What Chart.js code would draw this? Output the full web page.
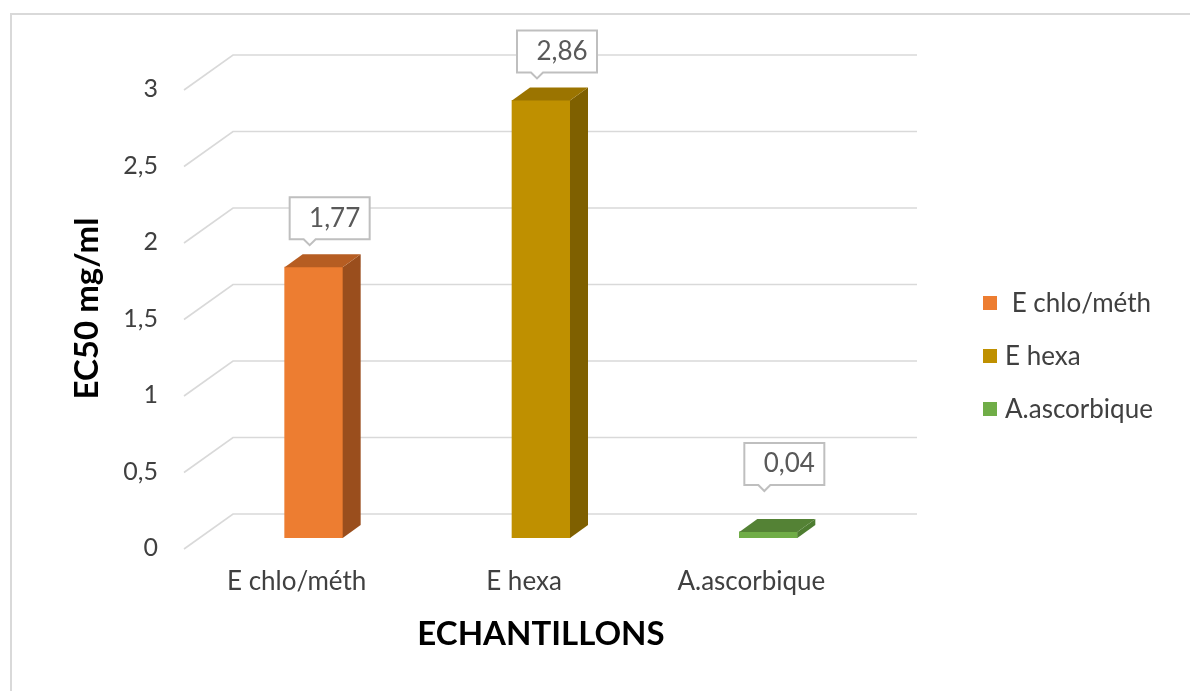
<!DOCTYPE html>
<html lang="fr">
<head>
<meta charset="utf-8">
<title>EC50 mg/ml</title>
<script src="https://cdn.jsdelivr.net/npm/chart.js@4.4.1/dist/chart.umd.min.js"></script>
<style>
  html, body { margin: 0; padding: 0; background: #fff; }
  #wrap { position: relative; width: 1190px; height: 691px; }
</style>
</head>
<body>
<div id="wrap"><canvas id="ec50" width="1190" height="691"></canvas></div>
<script>
(function () {
    'use strict';

    // valeurs
    var categories = ['E chlo/méth', 'E hexa', 'A.ascorbique'];
    var legendLabels = [' E chlo/méth', 'E hexa', 'A.ascorbique'];
    var ec50Values = [1.77, 2.86, 0.04];
    var yTickValues = [0, 0.5, 1, 1.5, 2, 2.5, 3];
    var yTickLabels = ['0', '0,5', '1', '1,5', '2', '2,5', '3'];

    // couleurs (face avant / côté / dessus)
    var frontColors = ['#ED7D31', '#BF9000', '#70AD47'];
    var sideColors = ['#9A4E1D', '#7F6000', '#4E7D31'];
    var topColors = ['#B65D22', '#9B7400', '#548235'];

    var FONT = "Lato, 'Open Sans', sans-serif";
    var GRID = '#d9d9d9';
    var BAR_DEPTH = { dx: 18, dy: -13 };
    var FLOOR_FRONT = { dx: -16, dy: 11 };
    var FLOOR_BACK = { dx: 33, dy: -24 };
    var nf = new Intl.NumberFormat('fr-FR', { minimumFractionDigits: 2, maximumFractionDigits: 2 });

    // cadre gris autour du graphique (coupé à droite et en bas)
    var framePlugin = {
        id: 'frame',
        beforeDraw: function (chart) {
            var ctx = chart.ctx;
            ctx.save();
            ctx.fillStyle = '#fff';
            ctx.fillRect(0, 0, chart.width, chart.height);
            ctx.strokeStyle = GRID;
            ctx.lineWidth = 2;
            ctx.beginPath();
            ctx.moveTo(11, chart.height);
            ctx.lineTo(11, 14);
            ctx.lineTo(chart.width, 14);
            ctx.stroke();
            ctx.restore();
        }
    };

    // quadrillage en perspective : segment du sol + ligne du mur du fond
    var floorGridPlugin = {
        id: 'floorGrid',
        beforeDatasetsDraw: function (chart) {
            var ctx = chart.ctx, y = chart.scales.y, a = chart.chartArea;
            ctx.save();
            ctx.strokeStyle = GRID;
            ctx.lineWidth = 1.6;
            y.ticks.forEach(function (t) {
                var py = y.getPixelForValue(t.value);
                ctx.beginPath();
                ctx.moveTo(a.left + FLOOR_FRONT.dx, py + FLOOR_FRONT.dy);
                ctx.lineTo(a.left + FLOOR_BACK.dx, py + FLOOR_BACK.dy);
                ctx.lineTo(a.right + 35, py + FLOOR_BACK.dy);
                ctx.stroke();
            });
            ctx.restore();
        }
    };

    // faces latérale et supérieure des barres + étiquettes de valeur
    var bar3dPlugin = {
        id: 'bar3d',
        afterDatasetsDraw: function (chart) {
            var ctx = chart.ctx;
            var meta = chart.getDatasetMeta(0);
            var data = chart.data.datasets[0].data;
            ctx.save();
            meta.data.forEach(function (bar, i) {
                var p = bar.getProps(['x', 'y', 'base', 'width'], true);
                var x0 = p.x - p.width / 2, x1 = p.x + p.width / 2;
                var dx = BAR_DEPTH.dx, dy = BAR_DEPTH.dy;

                ctx.fillStyle = sideColors[i];
                ctx.beginPath();
                ctx.moveTo(x1, p.y);
                ctx.lineTo(x1 + dx, p.y + dy);
                ctx.lineTo(x1 + dx, p.base + dy);
                ctx.lineTo(x1, p.base);
                ctx.closePath();
                ctx.fill();

                ctx.fillStyle = topColors[i];
                ctx.beginPath();
                ctx.moveTo(x0, p.y);
                ctx.lineTo(x0 + dx, p.y + dy);
                ctx.lineTo(x1 + dx, p.y + dy);
                ctx.lineTo(x1, p.y);
                ctx.closePath();
                ctx.fill();
            });

            // étiquettes encadrées (bulle)
            meta.data.forEach(function (bar, i) {
                var p = bar.getProps(['x', 'y', 'base', 'width'], true);
                var w = 80, h = 42;
                var cx = p.x + 16;
                var bottom = Math.min(p.y - 28, p.base - 53);
                var left = cx - w / 2;
                ctx.fillStyle = '#fff';
                ctx.strokeStyle = '#bfbfbf';
                ctx.lineWidth = 2;
                ctx.beginPath();
                ctx.moveTo(left, bottom - h);
                ctx.lineTo(left + w, bottom - h);
                ctx.lineTo(left + w, bottom);
                ctx.lineTo(left + 26, bottom);
                ctx.lineTo(left + 20, bottom + 6);
                ctx.lineTo(left + 14, bottom);
                ctx.lineTo(left, bottom);
                ctx.closePath();
                ctx.fill();
                ctx.stroke();
                ctx.fillStyle = '#595959';
                ctx.font = '26px ' + FONT;
                ctx.textAlign = 'center';
                ctx.textBaseline = 'middle';
                ctx.fillText(nf.format(data[i]), cx + 5, bottom - h / 2);
            });
            ctx.restore();
        }
    };

    // légende à droite (une entrée par échantillon)
    var legendPlugin = {
        id: 'sideLegend',
        afterDraw: function (chart) {
            var ctx = chart.ctx, a = chart.chartArea;
            var lx = a.right + 101, ly = 303, step = 53;
            ctx.save();
            ctx.font = '26px ' + FONT;
            ctx.textAlign = 'left';
            ctx.textBaseline = 'middle';
            legendLabels.forEach(function (label, i) {
                ctx.fillStyle = frontColors[i];
                ctx.fillRect(lx, ly + i * step - 7, 14, 14);
                ctx.fillStyle = '#404040';
                ctx.fillText(label, lx + 22, ly + i * step + 1);
            });
            ctx.restore();
        }
    };

    new Chart(document.getElementById('ec50'), {
        type: 'bar',
        data: {
            labels: categories,
            datasets: [{
                label: 'EC50 mg/ml',
                data: ec50Values,
                backgroundColor: frontColors,
                borderWidth: 0,
                barThickness: 58
            }]
        },
        options: {
            responsive: false,
            animation: false,
            devicePixelRatio: 1,
            layout: { padding: { top: 79, right: 308, bottom: 0, left: 0 } },
            plugins: {
                legend: { display: false },
                tooltip: { enabled: false }
            },
            scales: {
                x: {
                    grid: { display: false, drawTicks: false },
                    border: { display: false },
                    ticks: {
                        color: '#404040',
                        font: { family: FONT, size: 26 },
                        padding: 28,
                        labelOffset: -17
                    },
                    title: {
                        display: true,
                        text: 'ECHANTILLONS',
                        color: '#000',
                        font: { family: FONT, size: 33, weight: 'bold' },
                        padding: { top: 0, bottom: 37 }
                    },
                    afterFit: function (scale) { scale.height = 153; }
                },
                y: {
                    min: 0,
                    max: 3,
                    grid: { display: false, drawTicks: false },
                    border: { display: false },
                    ticks: {
                        stepSize: 0.5,
                        color: '#404040',
                        font: { family: FONT, size: 25 },
                        padding: 42,
                        labelOffset: 10,
                        callback: function (v) {
                            var i = yTickValues.indexOf(v);
                            return i >= 0 ? yTickLabels[i] : '';
                        }
                    },
                    title: {
                        display: true,
                        text: 'EC50 mg/ml',
                        color: '#000',
                        font: { family: FONT, size: 33, weight: 'bold' },
                        padding: { top: 68, bottom: 0 }
                    },
                    afterFit: function (scale) { scale.width = 200; }
                }
            }
        },
        plugins: [framePlugin, floorGridPlugin, bar3dPlugin, legendPlugin]
    });
})();
</script>
</body>
</html>
